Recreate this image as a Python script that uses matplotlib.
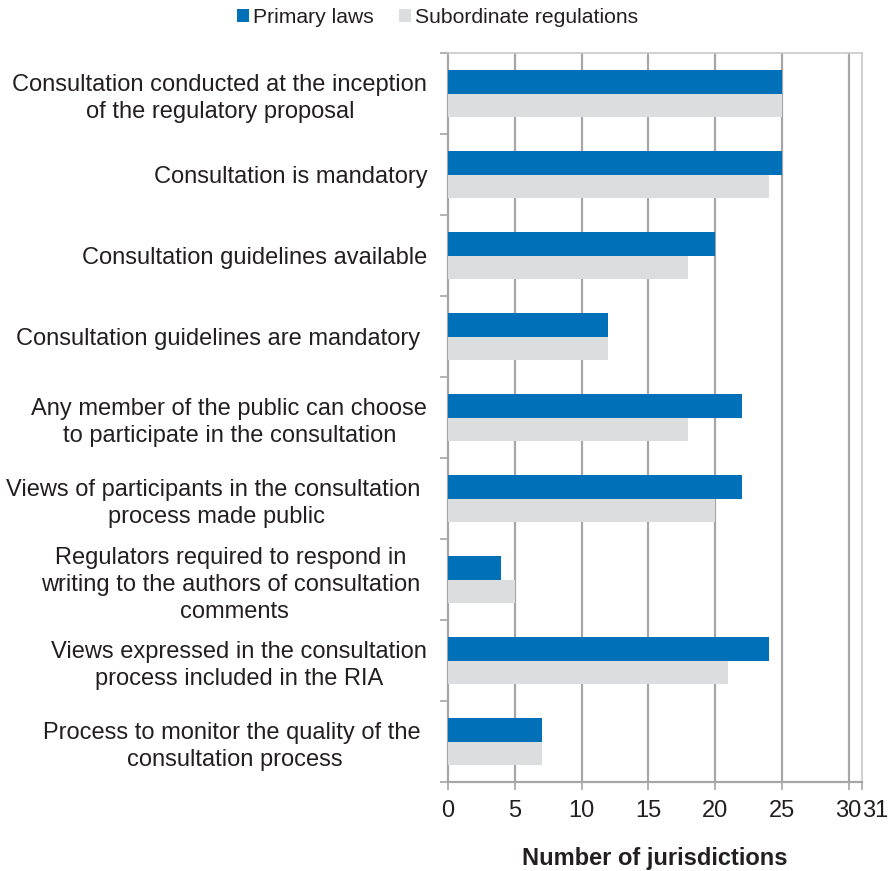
import matplotlib.pyplot as plt
import numpy as np

plt.rcParams["font.family"] = ["Liberation Sans", "DejaVu Sans"]

categories = [
    "Consultation conducted at the inception\nof the regulatory proposal",
    "Consultation is mandatory",
    "Consultation guidelines available",
    "Consultation guidelines are mandatory ",
    "Any member of the public can choose\nto participate in the consultation",
    "Views of participants in the consultation \nprocess made public",
    "Regulators required to respond in \nwriting to the authors of consultation \ncomments",
    "Views expressed in the consultation\nprocess included in the RIA",
    "Process to monitor the quality of the \nconsultation process",
]
primary_laws = [25, 25, 20, 12, 22, 22, 4, 24, 7]
subordinate_regs = [25, 24, 18, 12, 18, 20, 5, 21, 7]
x_ticks = [0, 5, 10, 15, 20, 25, 30, 31]

blue = "#0070B8"
grey = "#DCDDDF"
axis_grey = "#A6A6A8"
text_col = "#231F20"

fig = plt.figure(figsize=(8.95, 8.71), dpi=100)
ax = fig.add_axes([0.5006, 0.102, 0.4625, 0.837])

y = np.arange(len(categories))
h = 0.29
ax.barh(y - h / 2, primary_laws, height=h, color=blue, label="Primary laws", zorder=3)
ax.barh(y + h / 2, subordinate_regs, height=h, color=grey, label="Subordinate regulations", zorder=3)

ax.set_xlim(0, 31)
ax.set_ylim(len(categories) - 0.5, -0.5)

# vertical gridlines at 5..30
for gx in range(5, 31, 5):
    ax.axvline(gx, color=axis_grey, lw=1.6, zorder=1)

ax.set_xticks(x_ticks)
ax.set_xticklabels([str(t) for t in x_ticks], fontsize=17, color=text_col)
ax.tick_params(axis="x", length=6, width=1.2, color=axis_grey, pad=7)
# the last tick label sits just to the right of the "30"
ax.get_xticklabels()[-1].set_ha("left")
ax.get_xticklabels()[-1].set_x(31.1)

ax.set_yticks(y)
ax.set_yticklabels(categories, fontsize=17, color=text_col, ha="right",
                   multialignment="center", linespacing=1.3)
ax.tick_params(axis="y", which="major", length=0, pad=15)
ax.set_yticks(np.arange(-0.5, len(categories)), minor=True)
ax.tick_params(axis="y", which="minor", length=6, width=1.2, color=axis_grey)

for side in ["left", "bottom"]:
    ax.spines[side].set_color(axis_grey)
    ax.spines[side].set_linewidth(1.6)
for side in ["top", "right"]:
    ax.spines[side].set_color("#C8C8CA")
    ax.spines[side].set_linewidth(1.2)

ax.set_xlabel("Number of jurisdictions", fontsize=17, fontweight="bold", color=text_col, labelpad=18)

fig.legend(loc="upper center", bbox_to_anchor=(0.4888, 1.013), ncol=2, frameon=False,
           fontsize=15.2, handlelength=0.55, handleheight=0.55, handletextpad=0.2,
           columnspacing=1.2, labelcolor=text_col)

fig.savefig("out.png", dpi=100)
